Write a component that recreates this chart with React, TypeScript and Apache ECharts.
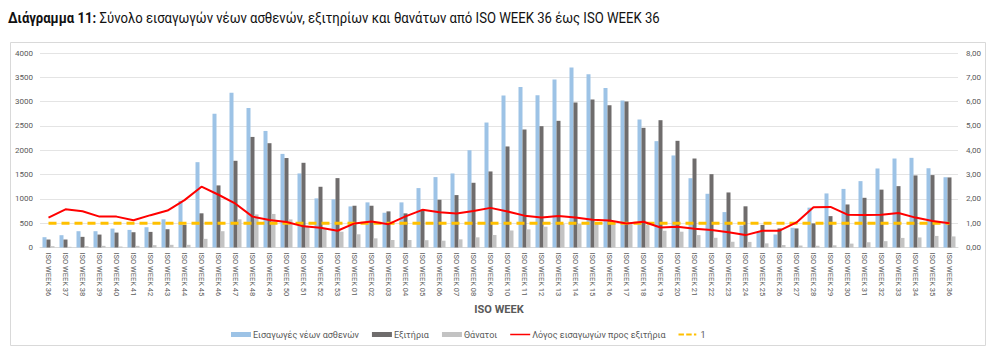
import React, { useEffect, useRef } from "react";
import * as echarts from "echarts";

const weeks = [
  "36", "37", "38", "39", "40", "41", "42", "43", "44", "45", "46", "47", "48", "49", "50", "51", "52", "53",
  "01", "02", "03", "04", "05", "06", "07", "08", "09", "10", "11", "12", "13", "14", "15", "16", "17", "18",
  "19", "20", "21", "22", "23", "24", "25", "26", "27", "28", "29", "30", "31", "32", "33", "34", "35", "36",
];
const categories = weeks.map((w) => "ISO WEEK " + w);

const admissions = [
  212, 253, 335, 335, 389, 362, 417, 580, 960, 1755, 2752, 3183, 2869, 2397, 1925, 1523, 1010, 990,
  845, 928, 715, 928, 1222, 1448, 1523, 2001, 2570, 3124, 3303, 3131, 3453, 3700, 3563, 3282, 3022, 2632,
  2187, 1893, 1425, 1105, 728, 450, 320, 268, 405, 820, 1112, 1205, 1365, 1625, 1830, 1844, 1630, 1445,
];
const discharges = [
  164, 164, 219, 266, 307, 314, 321, 376, 465, 703, 1277, 1783, 2274, 2145, 1840, 1742, 1249, 1427,
  859, 859, 743, 702, 784, 982, 1078, 1331, 1564, 2078, 2427, 2495, 2605, 2981, 3043, 2926, 3001, 2461,
  2618, 2194, 1830, 1508, 1132, 847, 465, 392, 392, 495, 645, 885, 1022, 1190, 1262, 1482, 1489, 1441,
];
const deaths = [
  27, 14, 27, 34, 20, 34, 48, 55, 55, 178, 335, 580, 680, 690, 578, 440, 380, 325,
  272, 188, 154, 154, 150, 140, 168, 209, 257, 350, 373, 428, 483, 483, 496, 496, 483, 462,
  345, 325, 255, 200, 118, 115, 85, 50, 40, 36, 45, 80, 108, 130, 197, 207, 238, 228,
];
const ratio = [
  1.23, 1.57, 1.49, 1.27, 1.27, 1.12, 1.33, 1.52, 1.95, 2.5, 2.17, 1.8, 1.27, 1.13, 1.05, 0.87, 0.81, 0.69,
  0.99, 1.07, 0.96, 1.28, 1.55, 1.45, 1.4, 1.5, 1.63, 1.48, 1.31, 1.23, 1.3, 1.23, 1.14, 1.11, 0.99, 1.06,
  0.82, 0.85, 0.77, 0.72, 0.63, 0.51, 0.69, 0.69, 1.03, 1.66, 1.67, 1.35, 1.34, 1.35, 1.42, 1.23, 1.09, 1.0,
];
const reference = [
  1, 1, 1, 1, 1, 1, 1, 1, 1, 1, 1, 1, 1, 1, 1, 1, 1, 1,
  1, 1, 1, 1, 1, 1, 1, 1, 1, 1, 1, 1, 1, 1, 1, 1, 1, 1,
  1, 1, 1, 1, 1, 1, 1, 1, 1, 1, 1, 1, 1, 1, 1, 1, 1, 1,
];

const leftTicks = { min: 0, max: 4000, interval: 500 };
const rightTicks = { min: 0, max: 8, interval: 1 };

const FONT = "Roboto, 'Noto Sans', sans-serif";
const AX = "#595959";

const ICON_LINE = "path://M0,0h22v0.05h-22z M0,2.2h22v1.6h-22z M0,5.95h22v0.05h-22z";
const ICON_DASH = "path://M0,0h22v0.05h-22z M0,1.8h6v2.4h-6z M8.5,1.8h6v2.4h-6z M17,1.8h2.6v2.4h-2.6z M0,5.95h22v0.05h-22z";

export default function App() {
  const ref = useRef<HTMLDivElement>(null);
  useEffect(() => {
    if (!ref.current) return;
    const chart = echarts.init(ref.current, undefined, { renderer: "svg" });
    chart.setOption({
      animation: false,
      backgroundColor: "#ffffff",
      textStyle: { fontFamily: FONT },
      graphic: [
        {
          type: "rect",
          shape: { x: 10.5, y: 42.5, width: 975, height: 303 },
          style: { fill: "none", stroke: "#d9d9d9", lineWidth: 1 },
          silent: true,
        },
        {
          type: "text",
          x: 8,
          y: 10,
          scaleX: 0.875,
          silent: true,
          style: {
            text: "{b|Διάγραμμα 11:} Σύνολο εισαγωγών νέων ασθενών, εξιτηρίων και θανάτων από ISO WEEK 36 έως ISO WEEK 36",
            font: "normal 15px " + FONT,
            fill: "#111111",
            rich: {
              b: { fontFamily: FONT, fontSize: 15, fontWeight: "bold", fill: "#111111", color: "#111111" },
            },
          },
        },
      ],
      legend: {
        left: 226,
        top: 325,
        itemWidth: 20,
        itemHeight: 5,
        itemGap: 13,
        symbolKeepAspect: false,
        textStyle: { fontFamily: FONT, fontSize: 9, color: AX, padding: [0, 0, 0, -3] },
        data: [
          { name: "Εισαγωγές νέων ασθενών", icon: "rect" },
          { name: "Εξιτήρια", icon: "rect" },
          { name: "Θάνατοι", icon: "rect" },
          { name: "Λόγος εισαγωγών προς εξιτήρια", icon: ICON_LINE },
          { name: "1", icon: ICON_DASH },
        ],
      },
      grid: { left: 40, right: 28, top: 53, bottom: 108.5 },
      xAxis: {
        type: "category",
        data: categories,
        boundaryGap: true,
        name: "ISO WEEK",
        nameLocation: "middle",
        nameGap: 48,
        nameTextStyle: { fontFamily: FONT, fontSize: 11, fontWeight: "bold", color: AX },
        axisLine: { show: true, lineStyle: { color: "#d9d9d9" } },
        axisTick: { show: false },
        axisLabel: { interval: 0, rotate: -90, fontSize: 7.5, color: AX, margin: 5, fontFamily: FONT },
      },
      yAxis: [
        {
          type: "value",
          min: leftTicks.min,
          max: leftTicks.max,
          interval: leftTicks.interval,
          axisLine: { show: false },
          axisTick: { show: false },
          axisLabel: {
            fontSize: 8,
            color: AX,
            margin: 7,
            fontFamily: FONT,
            formatter: (v: number) => String(v),
          },
          splitLine: { lineStyle: { color: "#e4e4e4", width: 1 } },
        },
        {
          type: "value",
          min: rightTicks.min,
          max: rightTicks.max,
          interval: rightTicks.interval,
          axisLine: { show: false },
          axisTick: { show: false },
          splitLine: { show: false },
          axisLabel: {
            fontSize: 8,
            color: AX,
            margin: 8,
            fontFamily: FONT,
            formatter: (v: number) => v.toFixed(2).replace(".", ","),
          },
        },
      ],
      series: [
        {
          name: "Εισαγωγές νέων ασθενών",
          type: "bar",
          data: admissions,
          barWidth: 4,
          barGap: "0%",
          itemStyle: { color: "#9dc3e6" },
        },
        {
          name: "Εξιτήρια",
          type: "bar",
          data: discharges,
          barWidth: 4,
          barGap: "0%",
          itemStyle: { color: "#6f6c6c" },
        },
        {
          name: "Θάνατοι",
          type: "bar",
          data: deaths,
          barWidth: 4,
          barGap: "0%",
          itemStyle: { color: "#c3c3c3" },
        },
        {
          name: "Λόγος εισαγωγών προς εξιτήρια",
          type: "line",
          yAxisIndex: 1,
          data: ratio,
          symbol: "none",
          z: 5,
          lineStyle: { color: "#ff0000", width: 2 },
          itemStyle: { color: "#ff0000" },
        },
        {
          name: "1",
          type: "line",
          yAxisIndex: 1,
          data: reference,
          symbol: "none",
          z: 4,
          lineStyle: { color: "#ffc000", width: 3, type: [8, 5] },
          itemStyle: { color: "#ffc000" },
        },
      ],
    });
    return () => chart.dispose();
  }, []);
  return (
    <div
      ref={ref}
      style={{ position: "absolute", left: 0, top: 0, width: 986, height: 356 }}
    />
  );
}
